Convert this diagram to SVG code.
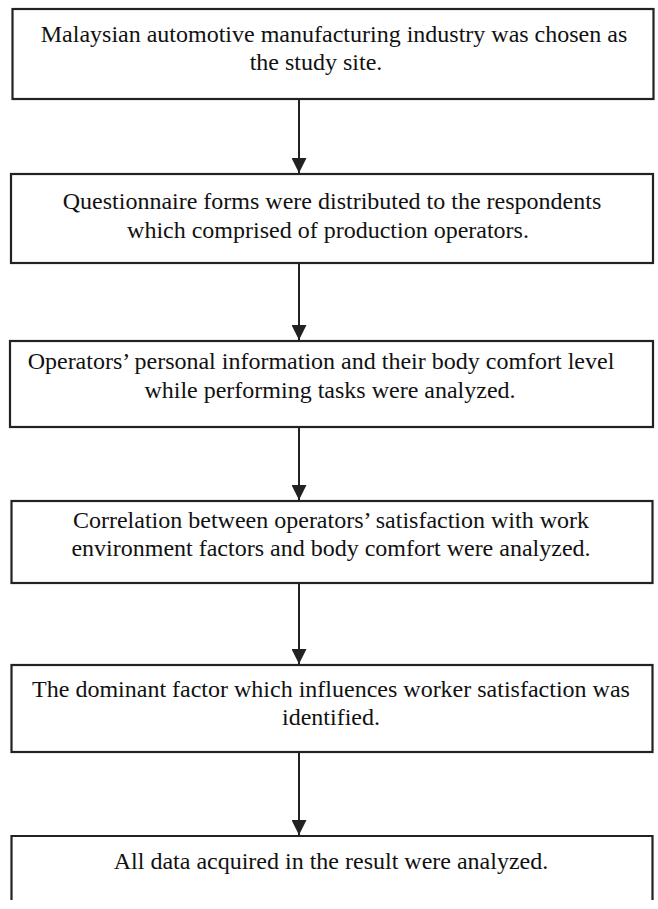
<svg xmlns="http://www.w3.org/2000/svg" width="658" height="909" viewBox="0 0 658 909">
<style>
.box{fill:#fff;stroke:#222;stroke-width:2.2}
.t{font-family:"Liberation Serif","Times New Roman",serif;font-size:24px;fill:#111;text-anchor:middle}
.c{stroke:#222;stroke-width:2;fill:none}
</style>
<defs>
<marker id="ah" viewBox="0 0 15 15" refX="15" refY="7.5" markerWidth="15" markerHeight="15" markerUnits="userSpaceOnUse" orient="auto">
<path d="M0,0 L15,7.5 L0,15 Z" fill="#222"/>
</marker>
</defs>
<rect width="658" height="909" fill="#fff"/>
<g id="connectors">
<line class="c" x1="299" y1="99" x2="299" y2="173" marker-end="url(#ah)"/>
<line class="c" x1="299" y1="263" x2="299" y2="340" marker-end="url(#ah)"/>
<line class="c" x1="299" y1="427" x2="299" y2="500" marker-end="url(#ah)"/>
<line class="c" x1="299" y1="583" x2="299" y2="664" marker-end="url(#ah)"/>
<line class="c" x1="299" y1="752" x2="299" y2="835" marker-end="url(#ah)"/>
</g>
<g id="n1">
<rect class="box" x="12.5" y="9" width="641" height="90"/>
<text class="t" x="334" y="42">Malaysian automotive manufacturing industry was chosen as</text>
<text class="t" x="316" y="70">the study site.</text>
</g>
<g id="n2">
<rect class="box" x="11" y="174" width="642" height="89"/>
<text class="t" x="332" y="209">Questionnaire forms were distributed to the respondents</text>
<text class="t" x="328" y="238">which comprised of production operators.</text>
</g>
<g id="n3">
<rect class="box" x="10" y="341" width="643" height="86"/>
<text class="t" x="321" y="369">Operators’ personal information and their body comfort level</text>
<text class="t" x="330" y="398">while performing tasks were analyzed.</text>
</g>
<g id="n4">
<rect class="box" x="11.5" y="501" width="641" height="82"/>
<text class="t" x="331" y="528">Correlation between operators’ satisfaction with work</text>
<text class="t" x="331" y="556">environment factors and body comfort were analyzed.</text>
</g>
<g id="n5">
<rect class="box" x="11.5" y="665" width="641" height="87"/>
<text class="t" x="331" y="697">The dominant factor which influences worker satisfaction was</text>
<text class="t" x="331" y="725">identified.</text>
</g>
<g id="n6">
<path class="box" d="M11.5,900 V836 H652.5 V900" fill="none"/>
<text class="t" x="331" y="869">All data acquired in the result were analyzed.</text>
</g>
</svg>
